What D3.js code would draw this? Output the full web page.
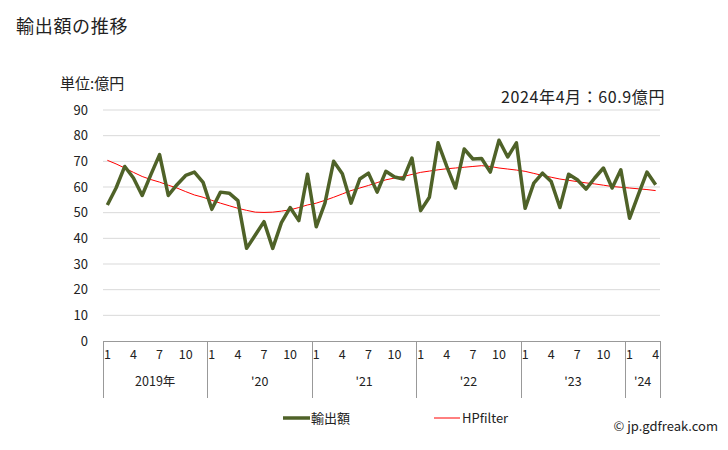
<!DOCTYPE html>
<html><head><meta charset="utf-8">
<script src="https://cdn.jsdelivr.net/npm/d3@7"></script>
<style>body{margin:0;background:#fff}svg{display:block}text{font-family:"Noto Sans CJK JP","Noto Sans",sans-serif}</style>
</head><body><svg id="c" width="728" height="450"></svg>
<script>
const exportValues = [53.0,59.6,68.0,63.5,56.7,64.8,72.6,56.7,60.9,64.5,65.8,61.8,
51.3,58.0,57.6,54.7,36.1,41.3,46.5,36.1,46.1,52.0,46.9,65.0,
44.5,53.7,70.0,65.2,53.7,63.1,65.4,58.0,66.1,63.9,63.1,71.3,
50.8,56.0,77.2,68.0,59.6,74.8,70.9,71.1,65.8,78.2,71.7,77.2,
51.7,61.5,65.4,62.1,52.0,65.0,62.8,59.2,63.5,67.4,59.6,66.7,
47.8,56.9,65.8,60.9];
const hpValues = [70.4,69.0,67.4,65.7,64.1,62.9,61.9,60.7,59.6,58.2,56.9,56.0,
54.8,53.7,52.7,51.7,50.9,50.2,50.1,50.2,50.6,51.1,52.0,53.0,
53.7,54.8,56.0,57.3,58.6,59.6,60.6,61.7,62.8,63.5,64.1,64.9,
65.7,66.2,66.7,67.1,67.4,67.7,68.0,68.3,68.0,67.4,67.0,66.6,
66.1,65.3,64.5,63.8,63.1,62.6,62.1,61.6,61.2,60.7,60.2,59.9,
59.6,59.3,59.0,58.6];
const years = ["2019年","'20","'21","'22","'23","'24"];
const monthTicks = [1,4,7,10];
const yTicks = [0,10,20,30,40,50,60,70,80,90];
const seriesNames = ["輸出額","HPfilter"];

const months = exportValues.map((d,i)=>({i, year: Math.floor(i/12), month: i%12+1}));
const svg = d3.select("#c");
const L=103, R=660, T=110, B=341;
const x = d3.scaleBand().domain(d3.range(exportValues.length)).range([L,R]);
const y = d3.scaleLinear().domain([0,90]).range([B,T]);
const cx = i => x(i)+x.bandwidth()/2;

svg.append("text").attr("x",16).attr("y",33).attr("font-size",18).attr("letter-spacing",0.7).attr("fill","#222").text("輸出額の推移");
svg.append("text").attr("x",60).attr("y",89).attr("font-size",15).attr("fill","#222").text("単位:億円");
svg.append("text").attr("x",665).attr("y",103).attr("text-anchor","end").attr("font-size",16).attr("letter-spacing",0.6).attr("fill","#222").text("2024年4月：60.9億円");

// grid
svg.append("g").selectAll("line").data(yTicks.filter(d=>d>0)).join("line")
  .attr("x1",L).attr("x2",R).attr("y1",d=>y(d)).attr("y2",d=>y(d))
  .attr("stroke","#d9d9d9").attr("stroke-width",1);
svg.append("g").selectAll("text").data(yTicks).join("text")
  .attr("x",88).attr("y",d=>y(d)+4.5).attr("text-anchor","end").attr("font-size",13).attr("fill","#222").text(d=>d);

// x axis box
const ax = svg.append("g");
ax.append("line").attr("x1",L).attr("x2",R).attr("y1",B+0.5).attr("y2",B+0.5).attr("stroke","#999");
const bounds = [];
years.forEach((yr,k)=>{ bounds.push(k*12); });
bounds.push(exportValues.length);
bounds.forEach(b=>{
  const xx = b<exportValues.length ? x(b) : R;
  ax.append("line").attr("x1",Math.round(xx)+0.5).attr("x2",Math.round(xx)+0.5).attr("y1",B).attr("y2",398).attr("stroke","#999");
});
ax.selectAll("text.m").data(months.filter(m=>monthTicks.includes(m.month))).join("text")
  .attr("class","m").attr("x",d=>cx(d.i)).attr("y",359).attr("text-anchor","middle").attr("font-size",12.5).attr("fill","#222").text(d=>d.month);
ax.selectAll("text.y").data(years).join("text")
  .attr("class","y").attr("x",(d,k)=>{const a=x(k*12); const e=Math.min((k+1)*12,exportValues.length); const b= e<exportValues.length?x(e):R; return (a+b)/2;})
  .attr("y",386).attr("text-anchor","middle").attr("font-size",12.5).attr("fill","#222").text(d=>d);

// lines
const line = d3.line().x((d,i)=>cx(i)).y(d=>y(d));
svg.append("path").datum(hpValues).attr("d",line).attr("fill","none").attr("stroke","#ff0000").attr("stroke-width",1);
svg.append("path").datum(exportValues).attr("d",line).attr("fill","none").attr("stroke","#4f6228").attr("stroke-width",3.5).attr("stroke-linejoin","round");

// legend
svg.append("line").attr("x1",283).attr("x2",310).attr("y1",418).attr("y2",418).attr("stroke","#4f6228").attr("stroke-width",3.5);
svg.append("text").attr("x",311).attr("y",423).attr("font-size",13).attr("fill","#222").text(seriesNames[0]);
svg.append("line").attr("x1",434).attr("x2",460).attr("y1",418).attr("y2",418).attr("stroke","#ff0000").attr("stroke-width",1);
svg.append("text").attr("x",462).attr("y",423).attr("font-size",13).attr("fill","#222").text(seriesNames[1]);
svg.append("text").attr("x",718).attr("y",431).attr("text-anchor","end").attr("font-size",13).attr("fill","#222").text("© jp.gdfreak.com");
</script></body></html>
